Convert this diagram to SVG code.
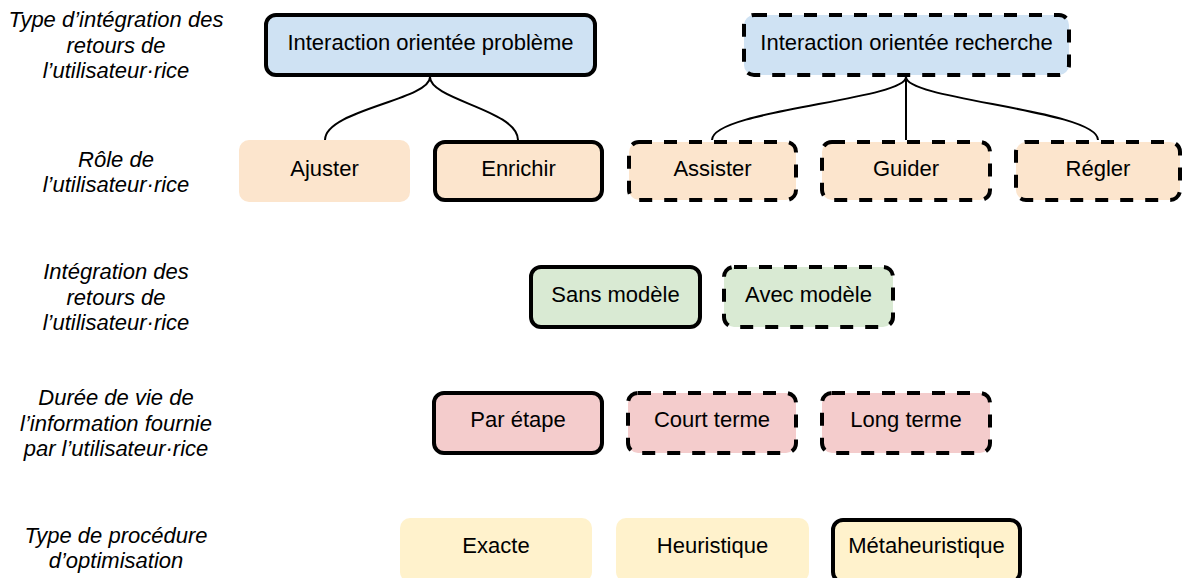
<svg xmlns="http://www.w3.org/2000/svg" width="1182" height="578" viewBox="0 0 1182 578">
<style>
  text { font-family: "Liberation Sans", Arial, sans-serif; font-size: 22px; fill: #000; text-anchor: middle; }
  .lbl { font-style: italic; }
  .solid { stroke: #000; stroke-width: 4; }
  .dash { stroke: #000; stroke-width: 4; stroke-dasharray: 13 12; }
  .blue { fill: #cfe2f3; }
  .orange { fill: #fce5cd; }
  .green { fill: #d9ead3; }
  .pink { fill: #f4cccc; }
  .yellow { fill: #fff2cc; }
  .conn { fill: none; stroke: #000; stroke-width: 2; }
</style>
<rect width="1182" height="578" fill="#fff"/>
<g id="labels">
  <text class="lbl" x="116" y="27">Type d’intégration des</text>
  <text class="lbl" x="116" y="53">retours de</text>
  <text class="lbl" x="116" y="78">l’utilisateur·rice</text>
  <text class="lbl" x="116" y="167">Rôle de</text>
  <text class="lbl" x="116" y="192">l’utilisateur·rice</text>
  <text class="lbl" x="116" y="279">Intégration des</text>
  <text class="lbl" x="116" y="305">retours de</text>
  <text class="lbl" x="116" y="330">l’utilisateur·rice</text>
  <text class="lbl" x="116" y="405">Durée de vie de</text>
  <text class="lbl" x="116" y="431">l’information fournie</text>
  <text class="lbl" x="116" y="456">par l’utilisateur·rice</text>
  <text class="lbl" x="116" y="543">Type de procédure</text>
  <text class="lbl" x="116" y="568">d’optimisation</text>
</g>
<g id="connectors">
  <path class="conn" d="M430,77 C430,100 325,110 325,140"/>
  <path class="conn" d="M430,77 C430,100 518,110 518,140"/>
  <path class="conn" d="M906,77 C906,100 712,110 712,140"/>
  <path class="conn" d="M906,77 L906,140"/>
  <path class="conn" d="M906,77 C906,100 1098,110 1098,140"/>
</g>
<g id="n-probleme"><rect class="blue solid" x="266" y="15" width="329" height="60" rx="10"/><text x="430.5" y="50">Interaction orientée problème</text></g>
<g id="n-recherche"><rect class="blue dash" x="744" y="15" width="325" height="60" rx="10"/><text x="906.5" y="50">Interaction orientée recherche</text></g>
<g id="n-ajuster"><rect class="orange" x="239" y="140" width="171" height="62" rx="10"/><text x="324.5" y="176">Ajuster</text></g>
<g id="n-enrichir"><rect class="orange solid" x="435" y="142" width="167" height="58" rx="10"/><text x="518.5" y="176">Enrichir</text></g>
<g id="n-assister"><rect class="orange dash" x="629" y="142" width="167" height="58" rx="10"/><text x="712.5" y="176">Assister</text></g>
<g id="n-guider"><rect class="orange dash" x="822" y="142" width="168" height="58" rx="10"/><text x="906" y="176">Guider</text></g>
<g id="n-regler"><rect class="orange dash" x="1016" y="142" width="164" height="58" rx="10"/><text x="1098" y="176">Régler</text></g>
<g id="n-sans"><rect class="green solid" x="531" y="267" width="169" height="60" rx="10"/><text x="615.5" y="302">Sans modèle</text></g>
<g id="n-avec"><rect class="green dash" x="724" y="267" width="169" height="60" rx="10"/><text x="808.5" y="302">Avec modèle</text></g>
<g id="n-etape"><rect class="pink solid" x="434" y="393" width="168" height="60" rx="10"/><text x="518" y="427">Par étape</text></g>
<g id="n-court"><rect class="pink dash" x="628" y="393" width="168" height="60" rx="10"/><text x="712" y="427">Court terme</text></g>
<g id="n-long"><rect class="pink dash" x="822" y="393" width="168" height="60" rx="10"/><text x="906" y="427">Long terme</text></g>
<g id="n-exacte"><rect class="yellow" x="400" y="518" width="192" height="64" rx="10"/><text x="496" y="553">Exacte</text></g>
<g id="n-heuristique"><rect class="yellow" x="616" y="518" width="193" height="64" rx="10"/><text x="712.5" y="553">Heuristique</text></g>
<g id="n-meta"><rect class="yellow solid" x="833" y="520" width="187" height="62" rx="10"/><text x="926.5" y="553">Métaheuristique</text></g>
</svg>
